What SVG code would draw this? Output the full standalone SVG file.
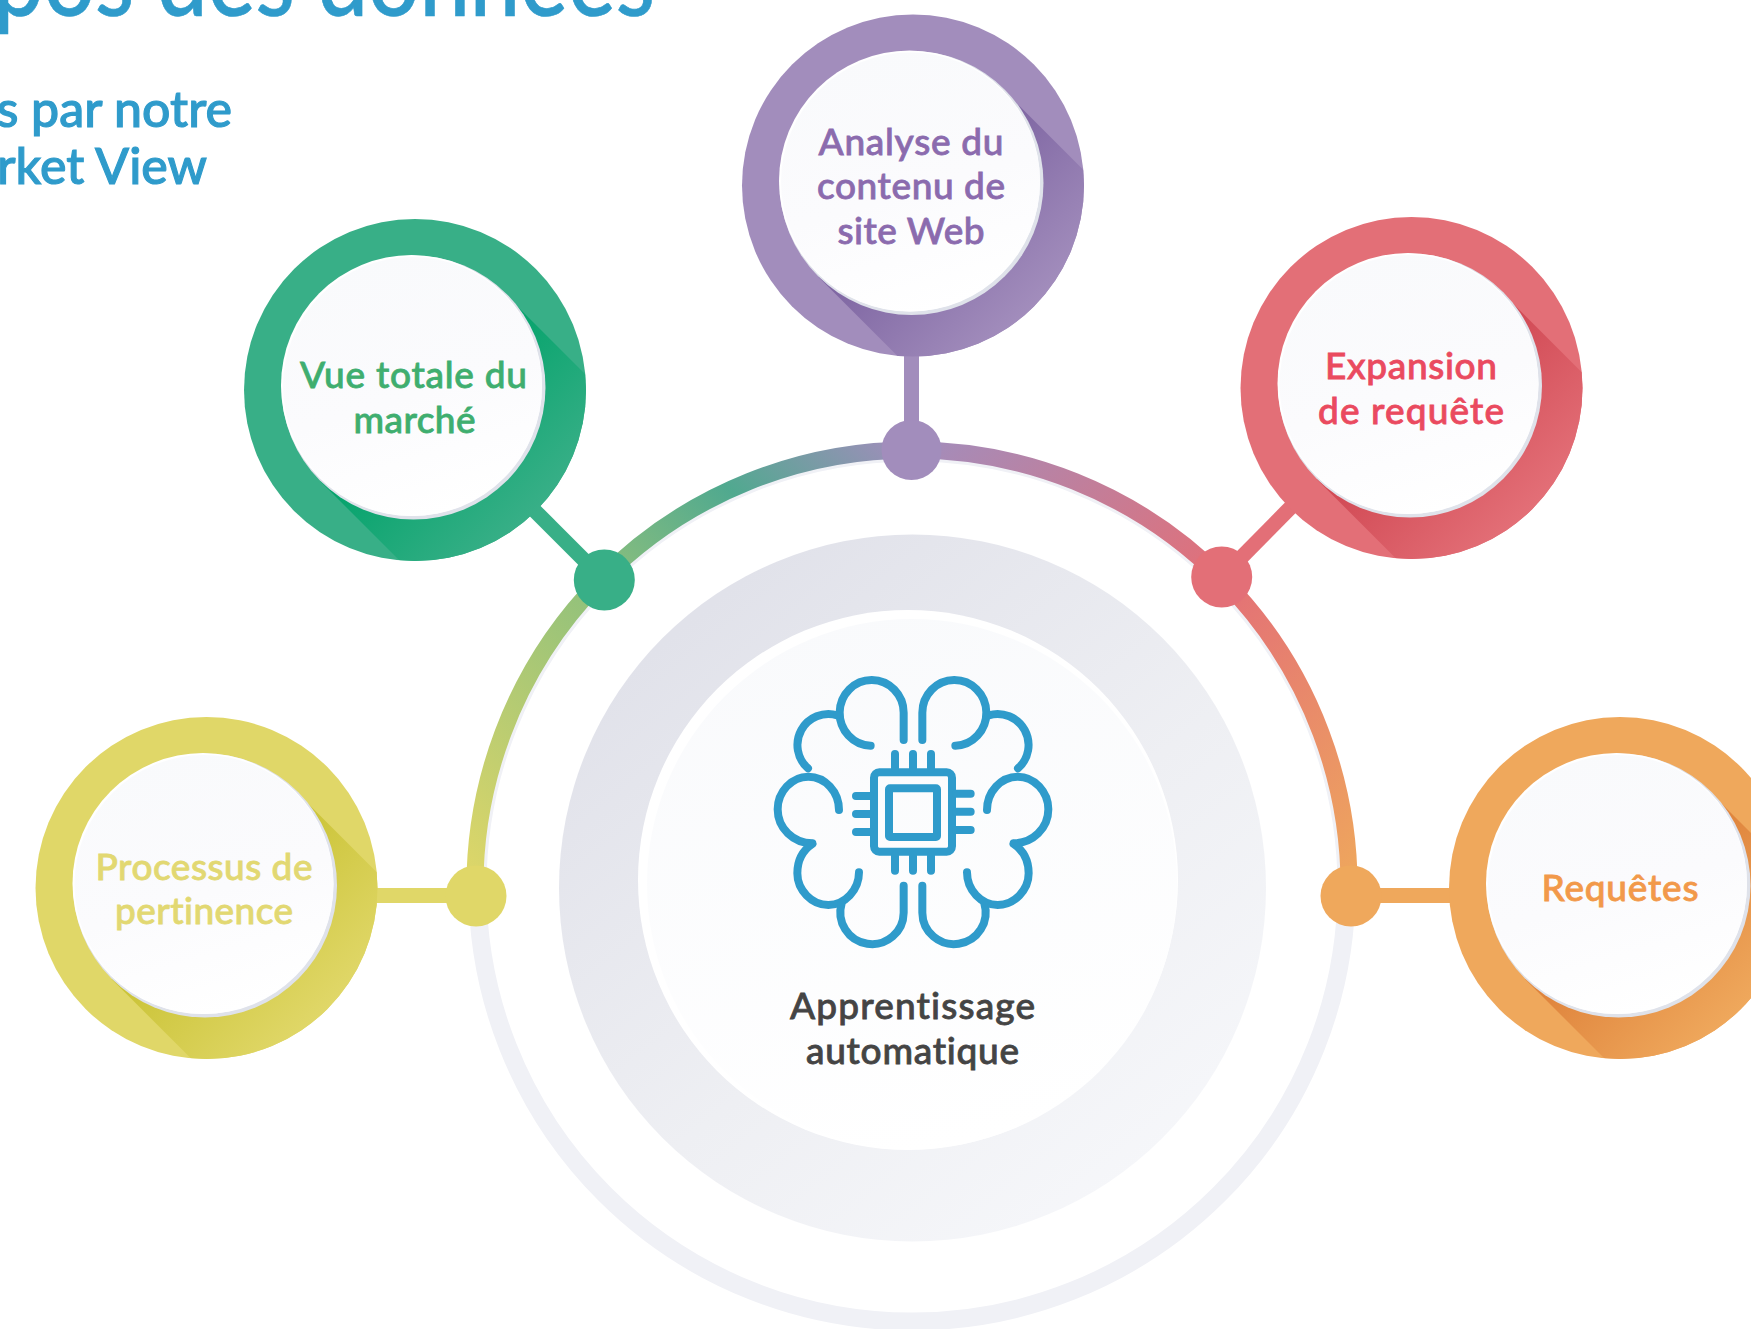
<svg xmlns="http://www.w3.org/2000/svg" width="1751" height="1329" viewBox="0 0 1751 1329">
<style>
text{font-family:"Lato","Liberation Sans",sans-serif;font-weight:500;text-anchor:middle;font-size:37px;font-variant-ligatures:none;stroke-width:.8}
.head{fill:#2f9bcb;stroke:#2f9bcb;text-anchor:end}
.ic{fill:none;stroke:#2f9bcb;stroke-width:24;stroke-linecap:round}
.stem{stroke-width:15;fill:none}
.arc{stroke-width:17;fill:none}
.face{fill:url(#face)}
.edge{fill:#dfe2ea}
.lit{fill:#fff}
</style>
<defs>
<clipPath id="ringClip"><circle r="171"/></clipPath>
<linearGradient id="face" x1="0.3" y1="0" x2="0.6" y2="1"><stop offset="0" stop-color="#f9fafc"/><stop offset="0.55" stop-color="#fbfbfd"/><stop offset="1" stop-color="#fff"/></linearGradient>
<linearGradient id="disc" x1="0.15" y1="0.15" x2="0.8" y2="0.95"><stop offset="0" stop-color="#e1e2ea"/><stop offset="0.55" stop-color="#eeeff3"/><stop offset="1" stop-color="#f6f7fa"/></linearGradient>
<linearGradient id="core" x1="0.3" y1="0" x2="0.55" y2="1"><stop offset="0" stop-color="#f9fafc"/><stop offset="1" stop-color="#fff"/></linearGradient>
<linearGradient id="arcL" gradientUnits="userSpaceOnUse" x1="476" y1="896" x2="912" y2="450"><stop offset="0" stop-color="#e0d768"/><stop offset="0.5" stop-color="#8ec07c"/><stop offset="0.75" stop-color="#50a98f"/><stop offset="1" stop-color="#a28dbc"/></linearGradient>
<linearGradient id="arcR" gradientUnits="userSpaceOnUse" x1="912" y1="450" x2="1351" y2="896"><stop offset="0" stop-color="#a28dbc"/><stop offset="0.49" stop-color="#e36f77"/><stop offset="1" stop-color="#efa85c"/></linearGradient>
<linearGradient id="sP" gradientUnits="userSpaceOnUse" x1="0" y1="0" x2="121" y2="121"><stop offset="0" stop-color="#7b62a0"/><stop offset="1" stop-color="#a28dbc"/></linearGradient>
<linearGradient id="sG" gradientUnits="userSpaceOnUse" x1="0" y1="0" x2="121" y2="121"><stop offset="0" stop-color="#00a269"/><stop offset="1" stop-color="#38af87"/></linearGradient>
<linearGradient id="sY" gradientUnits="userSpaceOnUse" x1="0" y1="0" x2="121" y2="121"><stop offset="0" stop-color="#c9c233"/><stop offset="1" stop-color="#e0d768"/></linearGradient>
<linearGradient id="sR" gradientUnits="userSpaceOnUse" x1="0" y1="0" x2="121" y2="121"><stop offset="0" stop-color="#cf4550"/><stop offset="1" stop-color="#e36f77"/></linearGradient>
<linearGradient id="sO" gradientUnits="userSpaceOnUse" x1="0" y1="0" x2="121" y2="121"><stop offset="0" stop-color="#dd7f38"/><stop offset="1" stop-color="#efa85c"/></linearGradient>
<path id="shadow" d="M91 -95L291 105L105 291L-95 91Z" clip-path="url(#ringClip)"/>
<g id="disk"><circle class="edge" cx="-1.5" cy="-2.5" r="132"/><circle class="lit" cx="-3.5" cy="-4.5" r="130.5"/><circle class="face" cx="-2.5" cy="-3.5" r="129.5"/></g>
<g id="halfBrain" class="ic">
<path d="M491 300V218A96 98.5 0 1 0 392 317"/>
<path d="M292 226A93 93 0 0 0 204 385"/>
<path d="M297 510C297 455 255 410 205 410C155 410 113 455 113 508C113 565 160 610 217 610"/>
<path d="M217 612C190 630 172 660 172 700C172 750 215 795 265 795C315 795 357 750 357 697"/>
<path d="M491 737V818A95 95 0 1 1 305 790"/>
</g>
</defs>
<g id="title">
<text class="head" x="655" y="16" style="font-size:104px;stroke-width:.6" textLength="662" lengthAdjust="spacingAndGlyphs">pos des données</text>
<text class="head" x="232" y="127" style="font-size:50px;stroke-width:1.1">s par notre</text>
<text class="head" x="207" y="184" style="font-size:50px;stroke-width:1.1">rket View</text>
</g>
<g id="backdrop">
<circle cx="912" cy="887" r="434.5" fill="none" stroke="#f0f1f6" stroke-width="18"/>
<circle cx="912.5" cy="888" r="353.5" fill="url(#disc)"/>
<circle cx="908" cy="880" r="270" fill="#fff"/>
<circle cx="912" cy="884" r="265" fill="url(#core)"/>
</g>
<g id="connectors">
<path class="arc" stroke="url(#arcL)" d="M475 896A437 437 0 0 1 912 450"/>
<path class="arc" stroke="url(#arcR)" d="M912 450A437 437 0 0 1 1349 896"/>
<path class="stem" stroke="#a28dbc" d="M911.5 340V450"/>
<path class="stem" stroke="#38af87" d="M530 506L604 580"/>
<path class="stem" stroke="#e36f77" d="M1295 503L1222 577"/>
<path class="stem" stroke="#e0d768" d="M370 895.5H476"/>
<path class="stem" stroke="#efa85c" d="M1351 895.5H1455"/>
<circle cx="911.5" cy="450" r="30" fill="#a28dbc"/>
<circle cx="604.3" cy="580" r="30.5" fill="#38af87"/>
<circle cx="1221.7" cy="577" r="30.5" fill="#e36f77"/>
<circle cx="476" cy="896" r="30.5" fill="#e0d768"/>
<circle cx="1351" cy="896" r="30.5" fill="#efa85c"/>
</g>
<g id="node-purple" transform="translate(913 185.5)">
<circle r="171" fill="#a28dbc"/><use href="#shadow" fill="url(#sP)"/><use href="#disk"/>
<g fill="#8b6bae" stroke="#8b6bae"><text x="-2" y="-31" textLength="185">Analyse du</text><text x="-2" y="13.5" textLength="188">contenu de</text><text x="-2" y="58" textLength="147">site Web</text></g>
</g>
<g id="node-green" transform="translate(415 390)">
<circle r="171" fill="#38af87"/><use href="#shadow" fill="url(#sG)"/><use href="#disk"/>
<g fill="#3fae6f" stroke="#3fae6f"><text x="-1.5" y="-2" textLength="227">Vue totale du</text><text x="-0.5" y="43" textLength="122">marché</text></g>
</g>
<g id="node-red" transform="translate(1411.5 388)">
<circle r="171" fill="#e36f77"/><use href="#shadow" fill="url(#sR)"/><use href="#disk"/>
<g fill="#ea4a5f" stroke="#ea4a5f"><text x="-0.5" y="-9.5" textLength="172">Expansion</text><text x="-0.5" y="35.5" textLength="186">de requête</text></g>
</g>
<g id="node-yellow" transform="translate(206.5 888)">
<circle r="171" fill="#e0d768"/><use href="#shadow" fill="url(#sY)"/><use href="#disk"/>
<g fill="#e2d872" stroke="#e2d872"><text x="-2.5" y="-8" textLength="217">Processus de</text><text x="-2.5" y="35.5" textLength="178">pertinence</text></g>
</g>
<g id="node-orange" transform="translate(1620 888)">
<circle r="171" fill="#efa85c"/><use href="#shadow" fill="url(#sO)"/><use href="#disk"/>
<text x="0" y="13" fill="#f2994a" stroke="#f2994a" textLength="157">Requêtes</text>
</g>
<g id="node-center">
<g transform="translate(740 640) scale(0.33333)">
<use href="#halfBrain"/>
<use href="#halfBrain" transform="matrix(-1 0 0 1 1038 0)"/>
<g class="ic">
<rect x="402" y="397" width="234" height="238" rx="16"/>
<rect x="447" y="445" width="144" height="146" rx="3"/>
<path d="M465 385V342M519 385V342M573 385V342M465 647V692M519 647V692M573 647V692M390 468H348M390 522H348M390 576H348M648 461H692M648 515H692M648 570H692"/>
</g>
</g>
<g fill="#444" stroke="#444"><text x="912.5" y="1019" textLength="245">Apprentissage</text><text x="912.5" y="1063.5" textLength="213">automatique</text></g>
</g>
</svg>
